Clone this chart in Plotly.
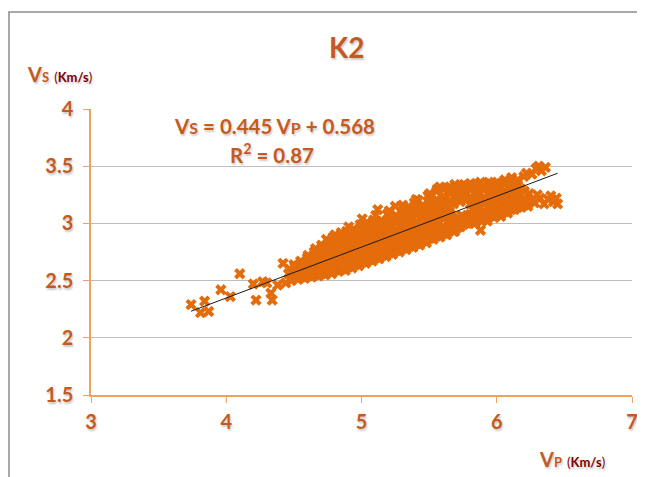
import plotly.graph_objects as go

# ---- data ----
vp = [
    3.74, 3.84, 3.81, 3.87, 3.96, 4.03, 4.10, 4.20, 4.22, 4.27, 4.30, 4.33, 4.34, 4.38, 4.42, 4.46, 4.44,
    4.48, 4.49, 4.47, 4.50,
    4.53, 4.52, 4.54, 4.53, 4.55,
    4.58, 4.59, 4.57, 4.58, 4.60,
    4.63, 4.62, 4.64, 4.63, 4.61, 4.65,
    4.68, 4.69, 4.67, 4.68, 4.70, 4.66,
    4.73, 4.72, 4.74, 4.73, 4.75, 4.71, 4.74,
    4.78, 4.79, 4.77, 4.78, 4.80, 4.76, 4.79,
    4.83, 4.82, 4.84, 4.83, 4.85, 4.81, 4.85,
    4.88, 4.89, 4.87, 4.88, 4.90, 4.86, 4.89,
    4.93, 4.92, 4.94, 4.93, 4.95, 4.91, 4.94,
    4.98, 4.99, 4.97, 4.98, 5.00, 4.96, 4.99,
    5.03, 5.02, 5.04, 5.03, 5.05, 5.01, 5.04,
    5.08, 5.09, 5.07, 5.08, 5.10, 5.06, 5.09,
    5.13, 5.12, 5.14, 5.13, 5.15, 5.11, 5.12,
    5.18, 5.19, 5.17, 5.18, 5.20, 5.16, 5.19,
    5.23, 5.22, 5.24, 5.23, 5.25, 5.21, 5.25,
    5.28, 5.29, 5.27, 5.28, 5.30, 5.26, 5.31,
    5.33, 5.32, 5.34, 5.33, 5.35, 5.31, 5.34,
    5.38, 5.39, 5.37, 5.38, 5.40, 5.36, 5.39,
    5.43, 5.42, 5.44, 5.43, 5.45, 5.41, 5.42,
    5.48, 5.49, 5.47, 5.48, 5.50, 5.46, 5.49,
    5.53, 5.52, 5.54, 5.53, 5.55, 5.51, 5.56,
    5.58, 5.59, 5.57, 5.58, 5.60, 5.56, 5.58,
    5.63, 5.62, 5.64, 5.63, 5.65, 5.61, 5.64,
    5.68, 5.69, 5.67, 5.68, 5.70, 5.66, 5.69,
    5.73, 5.72, 5.74, 5.73, 5.75, 5.71, 5.74,
    5.78, 5.79, 5.77, 5.78, 5.80, 5.76,
    5.83, 5.84, 5.82, 5.83, 5.85, 5.81, 5.84,
    5.88, 5.89, 5.87, 5.88, 5.90, 5.86, 5.89, 5.88,
    5.93, 5.92, 5.94, 5.93, 5.95, 5.91, 5.94,
    5.98, 5.99, 5.97, 5.98, 6.00, 5.96, 5.99,
    6.03, 6.02, 6.04, 6.03, 6.05, 6.01,
    6.08, 6.09, 6.07, 6.08, 6.10, 6.06,
    6.13, 6.12, 6.14, 6.13, 6.15, 6.11,
    6.18, 6.19, 6.17, 6.18, 6.20,
    6.23, 6.22, 6.24,
    6.28, 6.32, 6.35, 6.38, 6.42, 6.45, 6.40, 6.30, 6.44,
    6.26, 6.29, 6.33, 6.36, 6.31, 6.22,
    5.69, 5.71, 5.84,
]
vs = [
    2.29, 2.32, 2.22, 2.23, 2.42, 2.36, 2.56, 2.47, 2.33, 2.49, 2.48, 2.39, 2.33, 2.46, 2.65, 2.56, 2.48,
    2.50, 2.55, 2.60, 2.64,
    2.51, 2.55, 2.59, 2.63, 2.67,
    2.52, 2.56, 2.61, 2.65, 2.70,
    2.53, 2.57, 2.61, 2.66, 2.70, 2.75,
    2.54, 2.58, 2.63, 2.67, 2.72, 2.78,
    2.55, 2.60, 2.64, 2.69, 2.74, 2.80, 2.86,
    2.56, 2.61, 2.66, 2.71, 2.76, 2.82, 2.88,
    2.58, 2.63, 2.68, 2.73, 2.78, 2.84, 2.92,
    2.59, 2.64, 2.69, 2.74, 2.80, 2.86, 2.93,
    2.61, 2.66, 2.71, 2.76, 2.82, 2.88, 2.95,
    2.63, 2.68, 2.73, 2.78, 2.84, 2.90, 2.99,
    2.65, 2.70, 2.75, 2.80, 2.86, 2.92, 3.01,
    2.67, 2.72, 2.77, 2.82, 2.88, 2.94, 3.03,
    2.69, 2.74, 2.79, 2.84, 2.90, 2.97, 3.12,
    2.71, 2.76, 2.81, 2.86, 2.92, 2.99, 3.08,
    2.73, 2.78, 2.83, 2.88, 2.94, 3.01, 3.15,
    2.75, 2.80, 2.85, 2.91, 2.97, 3.04, 3.14,
    2.77, 2.82, 2.87, 2.93, 2.99, 3.06, 3.14,
    2.79, 2.84, 2.89, 2.95, 3.01, 3.08, 3.18,
    2.81, 2.86, 2.92, 2.98, 3.04, 3.11, 3.20,
    2.83, 2.88, 2.94, 3.00, 3.06, 3.13, 3.24,
    2.86, 2.91, 2.97, 3.03, 3.09, 3.16, 3.30,
    2.88, 2.94, 3.00, 3.06, 3.12, 3.19, 3.32,
    2.90, 2.96, 3.02, 3.08, 3.15, 3.22, 3.31,
    2.93, 2.98, 3.05, 3.17, 3.23, 3.29, 3.34,
    2.97, 3.03, 3.07, 3.19, 3.25, 3.30, 3.33,
    3.00, 3.04, 3.20, 3.26, 3.31, 3.34,
    3.00, 3.05, 3.12, 3.18, 3.24, 3.30, 3.34,
    2.94, 3.02, 3.08, 3.14, 3.20, 3.26, 3.32, 3.36,
    3.02, 3.08, 3.13, 3.19, 3.25, 3.31, 3.36,
    3.05, 3.10, 3.16, 3.21, 3.27, 3.32, 3.35,
    3.06, 3.11, 3.17, 3.23, 3.28, 3.33,
    3.09, 3.14, 3.19, 3.25, 3.31, 3.38,
    3.12, 3.17, 3.22, 3.27, 3.34, 3.40,
    3.14, 3.19, 3.24, 3.30, 3.41,
    3.15, 3.20, 3.26,
    3.18, 3.22, 3.17, 3.21, 3.19, 3.17, 3.24, 3.25, 3.22,
    3.43, 3.48, 3.46, 3.49, 3.50, 3.44,
    2.93, 3.05, 3.00,
]

# further points of the dense band, read column by column (Vp, list of Vs)
fill_vp = [4.505, 4.555, 4.605, 4.655, 4.705, 4.755, 4.805, 4.855, 4.905, 4.955,
           5.005, 5.055, 5.105, 5.155, 5.205, 5.255, 5.305, 5.355, 5.405, 5.455,
           5.505, 5.555, 5.605, 5.655, 5.705, 5.755, 5.805, 5.855, 5.905, 5.955,
           6.005, 6.055, 6.105, 6.155, 6.205]
fill_vs = [
    [2.53, 2.57, 2.62],
    [2.53, 2.57, 2.61, 2.65],
    [2.54, 2.59, 2.63, 2.68, 2.72],
    [2.55, 2.60, 2.64, 2.69, 2.73],
    [2.56, 2.61, 2.65, 2.70, 2.76, 2.81],
    [2.58, 2.63, 2.68, 2.73, 2.79, 2.84],
    [2.59, 2.64, 2.69, 2.75, 2.80, 2.86, 2.90],
    [2.60, 2.66, 2.71, 2.77, 2.83, 2.89],
    [2.62, 2.67, 2.73, 2.79, 2.85, 2.91, 2.97],
    [2.64, 2.69, 2.75, 2.81, 2.87, 2.93],
    [2.66, 2.72, 2.78, 2.83, 2.89, 2.96, 3.04],
    [2.68, 2.74, 2.79, 2.85, 2.91, 2.98],
    [2.70, 2.76, 2.81, 2.87, 2.93, 3.00, 3.07],
    [2.72, 2.78, 2.83, 2.89, 2.95, 3.02],
    [2.74, 2.80, 2.85, 2.91, 2.97, 3.04, 3.11],
    [2.76, 2.82, 2.88, 2.94, 3.00, 3.07],
    [2.78, 2.84, 2.90, 2.96, 3.02, 3.09, 3.16],
    [2.80, 2.86, 2.92, 2.98, 3.04, 3.11],
    [2.82, 2.88, 2.95, 3.01, 3.07, 3.14, 3.21],
    [2.85, 2.91, 2.97, 3.03, 3.09, 3.16],
    [2.87, 2.93, 2.99, 3.05, 3.11, 3.18, 3.26],
    [2.89, 2.95, 3.02, 3.08, 3.14, 3.21, 3.28],
    [2.91, 2.97, 3.04, 3.10, 3.17, 3.24, 3.30],
    [2.94, 3.00, 3.06, 3.13, 3.20, 3.26, 3.32],
    [2.96, 3.02, 3.21, 3.27, 3.32],
    [2.99, 3.05, 3.22, 3.28, 3.33],
    [3.02, 3.08, 3.17, 3.23, 3.29, 3.35],
    [3.03, 3.10, 3.16, 3.22, 3.28, 3.34],
    [3.05, 3.11, 3.17, 3.23, 3.29, 3.34],
    [3.07, 3.13, 3.18, 3.24, 3.30, 3.35],
    [3.08, 3.14, 3.20, 3.26, 3.31, 3.36],
    [3.10, 3.16, 3.22, 3.28, 3.34],
    [3.12, 3.18, 3.24, 3.30, 3.36],
    [3.14, 3.20, 3.26, 3.32, 3.38],
    [3.16, 3.22, 3.28],
]
assert len(vp) == len(vs) and len(fill_vp) == len(fill_vs)

slope = 0.445
intercept = 0.568
r2 = 0.87

x_ticks = [3, 4, 5, 6, 7]
y_ticks = [1.5, 2, 2.5, 3, 3.5, 4]

all_vp = list(vp)
all_vs = list(vs)
for xv, col in zip(fill_vp, fill_vs):
    all_vp.extend([xv] * len(col))
    all_vs.extend(col)

# ---- styling ----
FONT = "Lato, 'Open Sans', sans-serif"
ORANGE_TXT = "#C65A1E"
DARKRED = "#7F0000"
MARK = "#E46C0A"
AXIS_ORANGE = "#EFA25E"
SHADOW = "1px 2px 2px rgba(0,0,0,0.22)"

x_line = [min(all_vp), max(all_vp)]
y_line = [slope * v + intercept for v in x_line]

fig = go.Figure()
fig.add_trace(go.Scatter(
    x=all_vp, y=all_vs, mode="markers",
    marker=dict(symbol="x", size=10, color=MARK, line=dict(width=0)),
    showlegend=False, hoverinfo="skip",
))
fig.add_trace(go.Scatter(
    x=x_line, y=y_line, mode="lines",
    line=dict(color="#1a1a1a", width=1),
    showlegend=False, hoverinfo="skip",
))

tickfont = dict(family=FONT, size=20, color=ORANGE_TXT, weight="bold", shadow=SHADOW)

fig.update_xaxes(
    range=[3, 7], tickvals=x_ticks, ticktext=[str(t) for t in x_ticks],
    showgrid=False, zeroline=False, automargin=False,
    showline=True, linecolor=AXIS_ORANGE, linewidth=1.5,
    ticks="outside", ticklen=6, tickcolor=AXIS_ORANGE, tickwidth=1,
    tickfont=tickfont, ticklabelstandoff=2,
)
fig.update_yaxes(
    range=[1.5, 4], tickvals=y_ticks, ticktext=[f"{t:g}" for t in y_ticks],
    showgrid=True, gridcolor="#BDBDBD", gridwidth=1.2, zeroline=False, automargin=False,
    showline=True, linecolor=AXIS_ORANGE, linewidth=1.5,
    ticks="outside", ticklen=6, tickcolor=AXIS_ORANGE, tickwidth=1,
    tickfont=tickfont, ticklabelstandoff=6,
)

sm = "font-size:13px"
annots = [
    dict(text="<b>K2</b>", x=0.473, y=1.217, xanchor="center", yanchor="middle",
         font=dict(family=FONT, size=28, color=ORANGE_TXT, shadow=SHADOW)),
    dict(text=f"<b>V<span style='{sm}'>S</span></b> <span style='{sm};color:{DARKRED}'>(<b>Km/s</b>)</span>",
         x=-0.122, y=1.122, xanchor="left", yanchor="middle",
         font=dict(family=FONT, size=20, color=ORANGE_TXT, shadow=SHADOW)),
    dict(text=f"<b>V<span style='{sm}'>P</span></b> <span style='{sm};color:{DARKRED}'>(<b>Km/s</b>)</span>",
         x=0.824, y=-0.224, xanchor="left", yanchor="middle",
         font=dict(family=FONT, size=20, color=ORANGE_TXT, shadow=SHADOW)),
    dict(text=f"<b>V<span style='font-size:16px'>S</span> = {slope:.3f} V<span style='font-size:16px'>P</span> + {intercept:.3f}</b>",
         x=0.340, y=0.941, xanchor="center", yanchor="middle",
         font=dict(family=FONT, size=20.5, color=ORANGE_TXT, shadow=SHADOW)),
    dict(text=f"<b>R<sup>2</sup> = {r2:.2f}</b>",
         x=0.335, y=0.846, xanchor="center", yanchor="middle",
         font=dict(family=FONT, size=20.5, color=ORANGE_TXT, shadow=SHADOW)),
]
for a in annots:
    fig.add_annotation(xref="paper", yref="paper", showarrow=False, **a)

# outer chart frame
fig.add_shape(type="rect", xref="paper", yref="paper",
              x0=-0.1516, x1=1.04, y0=-0.31, y1=1.339,
              line=dict(color="#8C8C8C", width=1.5), fillcolor="rgba(0,0,0,0)", layer="below")

# page body adds an 8px offset, so the figure is 8px smaller than the window
fig.update_layout(
    width=637, height=469,
    margin=dict(l=83, r=13, t=101, b=82, autoexpand=False),
    paper_bgcolor="white", plot_bgcolor="white",
    font=dict(family=FONT),
)

fig.write_html("out.html")
